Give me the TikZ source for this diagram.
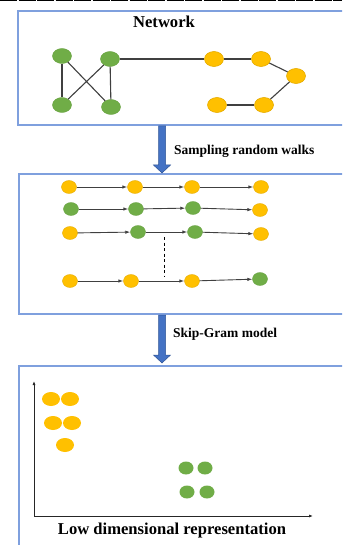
\documentclass[tikz,border=0pt]{standalone}
\usepackage{fontspec}
\setmainfont{Liberation Serif}
\usetikzlibrary{shapes.geometric,arrows.meta}
\definecolor{boxblue}{HTML}{7FA0DE}
\definecolor{arrblue}{HTML}{4472C4}
\definecolor{arrdark}{HTML}{2F5597}
\definecolor{ynode}{HTML}{FFC000}
\definecolor{yline}{HTML}{E6AC00}
\definecolor{gnode}{HTML}{70AD47}
\definecolor{gline}{HTML}{6AA343}
\definecolor{edgegray}{HTML}{404040}
\tikzset{
  panel/.style={draw=boxblue, line width=1.3pt},
  ynet/.style={ellipse, fill=ynode, draw=yline, line width=0.6pt, minimum width=19pt, minimum height=15pt, inner sep=0pt},
  gnet/.style={ellipse, fill=gnode, draw=gline, line width=0.4pt, minimum width=19pt, minimum height=15pt, inner sep=0pt},
  ywk/.style={ellipse, fill=ynode, draw=yline, line width=0.4pt, minimum width=15pt, minimum height=13pt, inner sep=0pt},
  gwk/.style={ellipse, fill=gnode, draw=gline, line width=0.4pt, minimum width=15pt, minimum height=13pt, inner sep=0pt},
  ysc/.style={ellipse, fill=ynode, draw=none, minimum width=18pt, minimum height=14pt, inner sep=0pt},
  gsc/.style={ellipse, fill=gnode, draw=none, minimum width=15pt, minimum height=13pt, inner sep=0pt},
  netedge/.style={draw=edgegray, line width=1.1pt},
  walk/.style={draw=edgegray, line width=0.9pt, -{Latex[length=5pt,width=3.5pt]}},
  axis/.style={draw=black!85, line width=0.9pt, -{Latex[length=4pt,width=3pt]}},
  bigtitle/.style={font=\bfseries\fontsize{16.6}{19}\selectfont, inner sep=0pt},
  steplabel/.style={font=\bfseries\fontsize{13.5}{16}\selectfont, inner sep=0pt, anchor=west},
  blockarrow/.style={fill=arrblue, draw=arrdark, line width=0.5pt}
}
\begin{document}
\begin{tikzpicture}[x=1pt,y=-1pt]
\useasboundingbox (0,0) rectangle (342,545);
\clip (0,0) rectangle (342,545);
\fill[white] (0,0) rectangle (342,545);
% top dashed border
\draw[black, line width=1.4pt, dash pattern=on 17pt off 1.5pt] (0,0.7) -- (342,0.7);

% panels
\draw[panel] (18,11) rectangle (360,125);
\draw[panel] (19,174) rectangle (360,314);
\draw[panel] (19,366) rectangle (360,560);

% block arrows
\draw[blockarrow] (158.5,126) -- (165.5,126) -- (165.5,165) -- (170.5,165) -- (162,173) -- (153.5,165) -- (158.5,165) -- cycle;
\draw[blockarrow] (158.5,315) -- (165.5,315) -- (165.5,355) -- (170.5,355) -- (162,363) -- (153.5,355) -- (158.5,355) -- cycle;

% labels
\node[bigtitle] (tnet) at (164,22) {Network};
\node[steplabel] (tsamp) at (174,151) {Sampling random walks};
\node[steplabel] (tskip) at (173,334) {Skip-Gram model};
\node[bigtitle] (tlow) at (172,531) {Low dimensional representation};

% network
\node[gnet] (g1) at (62,56) {};
\node[gnet] (g2) at (110,59) {};
\node[gnet] (g3) at (62,105) {};
\node[gnet] (g4) at (111,107) {};
\node[ynet] (y1) at (214,59) {};
\node[ynet] (y2) at (261,59) {};
\node[ynet] (y3) at (296,76) {};
\node[ynet] (y4) at (217,105) {};
\node[ynet] (y5) at (264,105) {};
\begin{scope}[on background layer/.style={}]
\path[netedge] (g1) -- (g3);
\path[netedge] (g1) -- (g4);
\path[netedge] (g2) -- (g3);
\path[netedge] (g2) -- (g4);
\path[netedge] (g2) -- (y1);
\path[netedge] (y1) -- (y2);
\path[netedge] (y2) -- (y3);
\path[netedge] (y3) -- (y5);
\path[netedge] (y4) -- (y5);
\end{scope}

% random walks
\node[ywk] (a1) at (69,187) {};
\node[ywk] (a2) at (135,187) {};
\node[ywk] (a3) at (192,187) {};
\node[ywk] (a4) at (261,187) {};
\node[gwk] (b1) at (71,209) {};
\node[gwk] (b2) at (136,209) {};
\node[gwk] (b3) at (193,208) {};
\node[ywk] (b4) at (260,210) {};
\node[ywk] (c1) at (70,233) {};
\node[gwk] (c2) at (138,232) {};
\node[gwk] (c3) at (195,232) {};
\node[ywk] (c4) at (261,234) {};
\node[ywk] (d1) at (70,281) {};
\node[ywk] (d2) at (131,281) {};
\node[ywk] (d3) at (192,281) {};
\node[gwk] (d4) at (260,279) {};
\draw[walk] (a1) -- (a2);
\draw[walk] (a2) -- (a3);
\draw[walk] (a3) -- (a4);
\draw[walk] (b1) -- (b2);
\draw[walk] (b2) -- (b3);
\draw[walk] (b3) -- (b4);
\draw[walk] (c1) -- (c2);
\draw[walk] (c2) -- (c3);
\draw[walk] (c3) -- (c4);
\draw[walk] (d1) -- (d2);
\draw[walk] (d2) -- (d3);
\draw[walk] (d3) -- (d4);
\coordinate (dtop) at (164,237);
\coordinate (dbot) at (164,276);
\draw[black, line width=0.9pt, dash pattern=on 3pt off 2.5pt] (dtop) -- (dbot);

% scatter plot
\coordinate (orig) at (34,516);
\coordinate (ytip) at (34,381);
\coordinate (xtip) at (313,516);
\draw[axis] (orig) -- (ytip);
\draw[axis] (orig) -- (xtip);
\node[ysc] (p1) at (51,399) {};
\node[ysc] (p2) at (70,399) {};
\node[ysc] (p3) at (53,423) {};
\node[ysc] (p4) at (72,423) {};
\node[ysc] (p5) at (65,445) {};
\node[gsc] (q1) at (186,468) {};
\node[gsc] (q2) at (205,468) {};
\node[gsc] (q3) at (187,492) {};
\node[gsc] (q4) at (207,492) {};
\end{tikzpicture}
\end{document}
